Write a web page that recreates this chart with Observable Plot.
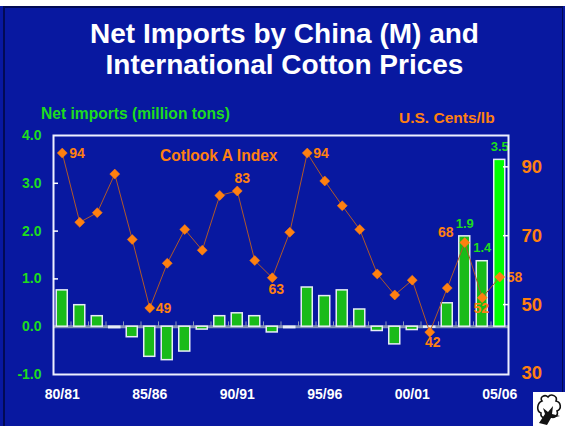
<!DOCTYPE html>
<html>
<head>
<meta charset="utf-8">
<script src="https://cdn.jsdelivr.net/npm/d3@7"></script>
<script src="https://cdn.jsdelivr.net/npm/@observablehq/plot@0.6"></script>
<style>
  html, body { margin: 0; padding: 0; background: #0818a0; }
  #page { position: relative; width: 565px; height: 426px; overflow: hidden; background: #0818a0;
          font-family: "Liberation Sans", Arial, sans-serif; font-weight: bold; }
  #topstrip { position: absolute; left: 0; top: 0; width: 565px; height: 6px; background: #fff; }
  #topline { position: absolute; left: 3px; top: 6px; width: 560px; height: 2px; background: #020a55; }
  #leftline { position: absolute; left: 3px; top: 6px; width: 2px; height: 420px; background: #020a55; }
  #rightline { position: absolute; left: 562px; top: 6px; width: 1px; height: 420px; background: #020a55; }
  #chart { position: absolute; left: 0; top: 0; width: 565px; height: 426px; }
  .t { position: absolute; white-space: nowrap; }
  #title { left: 0; width: 569px; top: 17.5px; text-align: center; color: #fff; font-size: 28px; line-height: 31.5px; }
  #ylab { left: 41px; top: 105.2px; color: #1edc1e; font-size: 15.6px; line-height: 17.4px; }
  #rlab { left: 399px; top: 108.7px; color: #ff8010; font-size: 15.5px; line-height: 17.3px; }
  #slab { left: 160px; top: 147.4px; color: #ff8010; font-size: 15.6px; line-height: 17.4px; }
  #icon { position: absolute; left: 533px; top: 392px; width: 32px; height: 34px; background: #fff; }
</style>
</head>
<body>
<div id="page">
  <div id="topstrip"></div>
  <div id="topline"></div>
  <div id="leftline"></div>
  <div id="rightline"></div>
  <div id="chart"></div>
  <div class="t" id="title">Net Imports by China (M) and<br>International Cotton Prices</div>
  <div class="t" id="ylab">Net imports (million tons)</div>
  <div class="t" id="rlab">U.S. Cents/lb</div>
  <div class="t" id="slab">Cotlook A Index</div>
  <div id="icon">
    <svg width="32" height="34" viewBox="0 0 32 34">
      <path d="M9 9 C6 5 12 2 15 5 C18 1 25 4 23 9 C28 10 29 17 24 19 C26 24 20 27 17 24 C14 28 7 26 8 21 C3 19 4 11 9 9 Z" fill="#fff" stroke="#111" stroke-width="1.6"/>
      <path d="M6 31 L12 22 L10 16 L15 20 L20 14 L19 22 L27 24 L18 26 L14 33 Z" fill="#111"/>
    </svg>
  </div>
</div>
<script>
// ---- data ----
const seasons = ["80/81","81/82","82/83","83/84","84/85","85/86","86/87","87/88","88/89","89/90",
                 "90/91","91/92","92/93","93/94","94/95","95/96","96/97","97/98","98/99","99/00",
                 "00/01","01/02","02/03","03/04","04/05","05/06"];
const netImports = [0.76,0.45,0.22,-0.03,-0.22,-0.63,-0.70,-0.52,-0.06,0.22,
                    0.28,0.22,-0.12,-0.03,0.82,0.64,0.76,0.36,-0.09,-0.37,
                    -0.07,-0.02,0.49,1.89,1.37,3.49];
const cotlookA = [94,73.9,76.7,87.9,68.9,49,62.0,71.8,65.8,81.7,
                  83,62.8,57.8,71.0,94,85.9,78.7,71.8,58.9,52.8,
                  57.1,42,54.8,68,52,58];
const importTicks = [-1,0,1,2,3,4];
const priceTicks = [30,50,70,90];
const xTickLabels = ["80/81","85/86","90/91","95/96","00/01","05/06"];
const priceLabelSeasons = ["80/81","85/86","90/91","92/93","94/95","01/02","03/04","04/05","05/06"];
const priceLabelTexts   = ["94","49","83","63","94","42","68","52","58"];
const importLabelSeasons = ["03/04","04/05","05/06"];

// ---- dual-axis mapping (right price axis onto left import axis) ----
const leftDomain = [-1, 4];
const priceDomain = [29.7, 99.1];
const toLeft = p => leftDomain[0] + (p - priceDomain[0]) / (priceDomain[1] - priceDomain[0]) * (leftDomain[1] - leftDomain[0]);

const GREEN = "#1edc1e", ORANGE = "#ff8010", BAR = "#19bb19", BAR_HI = "#00ff00";

const rows = seasons.map((s, i) => ({season: s, imp: netImports[i], price: cotlookA[i], py: toLeft(cotlookA[i])}));
const bySeason = new Map(rows.map(d => [d.season, d]));
const priceLabels = priceLabelSeasons.map((s, i) => ({...bySeason.get(s), text: priceLabelTexts[i]}));
const importLabels = importLabelSeasons.map(s => bySeason.get(s));
const pl = k => [priceLabels[k]];

const W = 565, H = 426, ML = 53, MR = 57, MT = 135, MB = 52;
const step = (W - ML - MR) / seasons.length;

const txt = (data, opts) => Plot.text(data, {x: "season", y: "py", text: "text", fill: ORANGE,
  fontSize: 14, fontWeight: "bold", ...opts});

const chart = Plot.plot({
  width: W, height: H,
  marginLeft: ML, marginRight: MR, marginTop: MT, marginBottom: MB,
  style: {background: "transparent", fontFamily: "'Liberation Sans', Arial, sans-serif"},
  x: {type: "band", domain: seasons, paddingInner: 0.37, paddingOuter: 0.185, round: false, label: null},
  y: {domain: leftDomain, label: null},
  marks: [
    // zero line and category boundary ticks
    Plot.ruleY([0], {stroke: "#8492b8", strokeWidth: 3}),
    Plot.ruleX(seasons.slice(1), {x: d => d, y1: 0, y2: 0.1, dx: -step / 2, stroke: "#8a96b8", strokeWidth: 1}),
    // bars
    Plot.barY(rows, {x: "season", y: "imp", fill: d => d.season === "05/06" ? BAR_HI : BAR,
      stroke: "#e6ecf6", strokeWidth: 1.5}),
    // price line + markers
    Plot.line(rows, {x: "season", y: "py", stroke: "#b0582a", strokeWidth: 1}),
    Plot.dot(rows, {x: "season", y: "py", symbol: "diamond2", r: 4.5, fill: ORANGE, stroke: ORANGE, strokeWidth: 0.5}),
    // price labels
    txt(pl(0), {dx: 7, textAnchor: "start"}),
    txt(pl(1), {dx: 6, textAnchor: "start"}),
    txt(pl(2), {dx: 5, dy: -12}),
    txt(pl(3), {dx: 4, dy: 12}),
    txt(pl(4), {dx: 6, textAnchor: "start"}),
    txt(pl(5), {dx: 3, dy: 10}),
    txt(pl(6), {dx: -19, dy: -10}),
    txt(pl(7), {dx: -1, dy: 11}),
    txt(pl(8), {dx: 7, textAnchor: "start"}),
    // import labels
    Plot.text(importLabels, {x: "season", y: "imp", text: d => d.imp.toFixed(1), dy: -13,
      fill: GREEN, fontSize: 13, fontWeight: "bold"}),
    // frame
    Plot.frame({stroke: "#eef0ff", strokeWidth: 2}),
    // inward ticks
    Plot.ruleY([1, 2, 3], {stroke: "#fff", strokeWidth: 1.5, insetRight: (W - ML - MR) - 5}),
    Plot.ruleY(priceTicks.slice(1).map(toLeft), {stroke: "#fff", strokeWidth: 1.5, insetLeft: (W - ML - MR) - 5}),
    // axes
    Plot.axisY(importTicks, {anchor: "left", tickSize: 0, tickPadding: 12, tickFormat: d => d.toFixed(1),
      color: GREEN, fill: GREEN, fontSize: 14, fontWeight: "bold", label: null}),
    Plot.axisY(priceTicks.map(toLeft), {anchor: "right", tickSize: 0, tickPadding: 13,
      tickFormat: (d, i) => String(priceTicks[i]),
      color: ORANGE, fill: ORANGE, fontSize: 18.5, fontWeight: "bold", label: null}),
    Plot.axisX(xTickLabels, {anchor: "bottom", tickSize: 0, tickPadding: 15,
      color: "#fff", fill: "#fff", fontSize: 14, fontWeight: "bold", label: null})
  ]
});
document.getElementById("chart").appendChild(chart);
</script>
</body>
</html>
